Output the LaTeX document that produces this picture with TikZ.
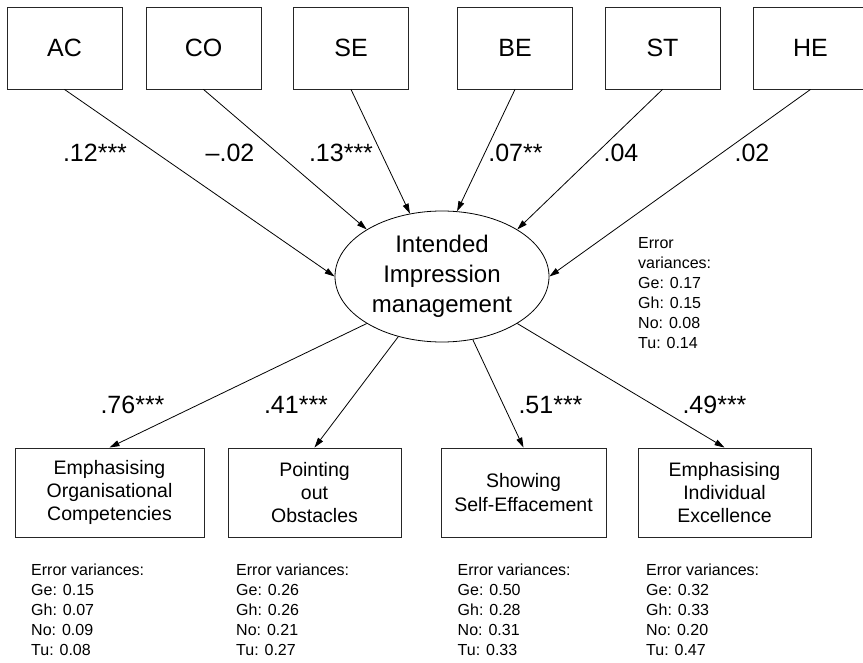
\documentclass[tikz,border=0pt]{standalone}
\usepackage{fontspec}
\setmainfont{Liberation Sans}
\usetikzlibrary{shapes.geometric,arrows.meta}

\begin{document}
\begin{tikzpicture}[x=1pt,y=-1pt,
    box/.style={draw=black!85,line width=0.9pt,minimum width=115pt,minimum height=82pt,
        inner sep=0pt,font=\fontsize{25}{30}\selectfont},
    outbox/.style={draw=black!85,line width=0.9pt,minimum height=89pt,inner sep=0pt,
        align=center,font=\fontsize{19.5}{23.3}\selectfont},
    arr/.style={line width=0.8pt,-{Triangle[length=10pt,width=6pt]}},
    coef/.style={inner sep=0pt,font=\fontsize{25}{30}\selectfont},
    errvar/.style={anchor=north west,align=left,inner sep=0pt,font=\fontsize{16}{20}\selectfont}]
        \useasboundingbox (0,0) rectangle (863,663);
        %% predictors
        \foreach \n/\x/\t in {ac/64.5/AC,co/203.5/CO,se/351/SE,be/515/BE,st/662.5/ST,he/810.5/HE}
            \node[box] (\n) at (\x,48) {\t};
        %% latent factor
        \node[ellipse,draw,line width=0.8pt,minimum width=214pt,minimum height=131pt,inner sep=0pt,
            align=center,font=\fontsize{24}{30}\selectfont] (imp) at (442,276.5)
            {Intended\\Impression\\management};
        \node[errvar] (errimp) at (638,237) {Error\\variances:\\Ge: 0.17\\Gh: 0.15\\No: 0.08\\Tu: 0.14};
        %% paths in
        \foreach \n/\a in {ac/180,co/148,se/117,be/77,st/32,he/0}
            \draw[arr] (\n.south) -- (imp.\a);
        \foreach \n/\x/\t in {cac/95/{.12***},cco/230/{--.02},cse/341/{.13***},cbe/515.5/{.07**},cst/621/{.04},che/752/{.02}}
            \node[coef] (\n) at (\x,152.5) {\t};
        %% strategies
        \node[outbox,minimum width=189pt] (eoc) at (109.5,492.5) {Emphasising\\Organisational\\Competencies};
        \node[outbox,minimum width=173pt] (poo) at (314.5,492.5) {Pointing\\out\\Obstacles};
        \node[outbox,minimum width=165pt] (sse) at (523.5,492.5) {Showing\\Self-Effacement};
        \node[outbox,minimum width=173pt] (eie) at (724.5,492.5) {Emphasising\\Individual\\Excellence};
        %% paths out
        \foreach \a/\n in {212/eoc,234/poo,296/sse,328/eie}
            \draw[arr] (imp.\a) -- (\n.north);
        \foreach \n/\x/\t in {ceoc/132.5/{.76***},cpoo/296/{.41***},csse/550.5/{.51***},ceie/714.5/{.49***}}
            \node[coef] (\n) at (\x,405) {\t};
        %% error variances
        \node[errvar] (erreoc) at (31,564) {Error variances:\\Ge: 0.15\\Gh: 0.07\\No: 0.09\\Tu: 0.08};
        \node[errvar] (errpoo) at (236,564) {Error variances:\\Ge: 0.26\\Gh: 0.26\\No: 0.21\\Tu: 0.27};
        \node[errvar] (errsse) at (457.5,564) {Error variances:\\Ge: 0.50\\Gh: 0.28\\No: 0.31\\Tu: 0.33};
        \node[errvar] (erreie) at (646,564) {Error variances:\\Ge: 0.32\\Gh: 0.33\\No: 0.20\\Tu: 0.47};
    \end{tikzpicture}
\end{document}
